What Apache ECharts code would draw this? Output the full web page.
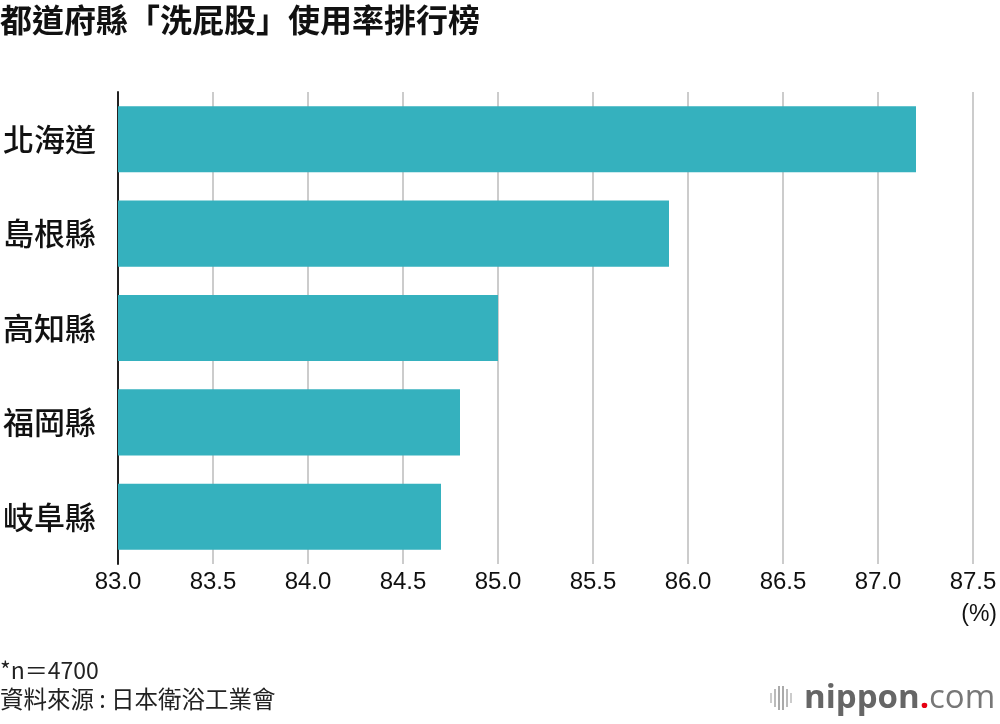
<!DOCTYPE html>
<html>
<head>
<meta charset="utf-8">
<script src="https://cdn.jsdelivr.net/npm/echarts@6/dist/echarts.min.js"></script>
<style>
html,body{margin:0;padding:0;background:#fff;}
#chart{width:1000px;height:724px;}
</style>
</head>
<body>
<div id="chart"></div>
<script>
const categories = ['北海道', '島根縣', '高知縣', '福岡縣', '岐阜縣'];
const values = [87.2, 85.9, 85.0, 84.8, 84.7];
const xTicks = [83.0, 83.5, 84.0, 84.5, 85.0, 85.5, 86.0, 86.5, 87.0, 87.5];
const titleText = '都道府縣「洗屁股」使用率排行榜';
const unitText = '(%)';
const noteText = '*n＝4700';
const sourceText = '資料來源 : 日本衛浴工業會';

const cjk = '"Noto Sans CJK TC", "Noto Sans CJK JP", sans-serif';
const chart = echarts.init(document.getElementById('chart'), null, {renderer: 'canvas'});
chart.setOption({
  animation: false,
  backgroundColor: '#fff',
  grid: {left: 118, right: 27, top: 92, bottom: 160, containLabel: false},
  xAxis: {
    type: 'value',
    min: xTicks[0],
    max: xTicks[xTicks.length - 1],
    interval: 0.5,
    axisLine: {show: false},
    axisTick: {show: false},
    splitLine: {show: true, lineStyle: {color: '#cccccc', width: 2}},
    axisLabel: {
      margin: 6,
      fontSize: 24,
      color: '#111',
      fontFamily: '"Liberation Sans", Arial, sans-serif',
      formatter: v => v.toFixed(1)
    }
  },
  yAxis: {
    type: 'category',
    data: categories,
    inverse: true,
    axisLine: {show: true, lineStyle: {color: '#222', width: 2}},
    axisTick: {show: false},
    splitLine: {show: false},
    axisLabel: {margin: 22, fontSize: 31, fontWeight: 500, color: '#111', fontFamily: cjk}
  },
  series: [{
    type: 'bar',
    data: values,
    barCategoryGap: '30%',
    itemStyle: {color: '#35b1be'},
    z: 3
  }],
  graphic: [
    {type: 'text', left: 0, top: 4, style: {text: titleText, font: 'bold 32px ' + cjk, fill: '#111'}},
    {type: 'text', right: 3, top: 603, style: {text: unitText, font: '23px "Liberation Sans", Arial, sans-serif', fill: '#111'}},
    {type: 'text', left: 0, top: 659, style: {text: noteText, font: '23px ' + cjk, fill: '#222'}},
    {type: 'text', left: 0, top: 687, style: {text: sourceText, font: '23.5px ' + cjk, fill: '#222'}},
    {type: 'group', left: 770, top: 686, children: [
      {type: 'rect', shape: {x: 0, y: 11, width: 2, height: 10}, style: {fill: '#ccc'}},
      {type: 'rect', shape: {x: 4, y: 7, width: 2, height: 18}, style: {fill: '#bbb'}},
      {type: 'rect', shape: {x: 8, y: 4, width: 2, height: 24}, style: {fill: '#aaa'}},
      {type: 'rect', shape: {x: 12, y: 4, width: 2, height: 24}, style: {fill: '#aaa'}},
      {type: 'rect', shape: {x: 16, y: 7, width: 2, height: 18}, style: {fill: '#bbb'}},
      {type: 'rect', shape: {x: 20, y: 11, width: 2, height: 10}, style: {fill: '#ccc'}}
    ]},
    {type: 'text', left: 804, top: 682, style: {
      text: '{a|nippon}{b|.}{c|com}',
      rich: {
        a: {font: 'bold 33px "Open Sans", sans-serif', fill: '#666'},
        b: {font: 'bold 33px "Open Sans", sans-serif', fill: '#e60012'},
        c: {font: '33px "Open Sans", sans-serif', fill: '#777'}
      }
    }}
  ]
});
</script>
</body>
</html>
